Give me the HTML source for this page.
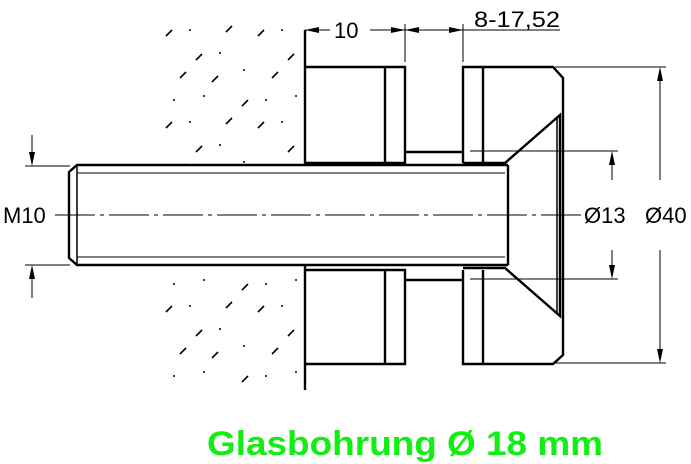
<!DOCTYPE html>
<html><head><meta charset="utf-8"><style>html,body{margin:0;padding:0;background:#fff}svg{display:block}</style></head>
<body>
<svg width="691" height="464" viewBox="0 0 691 464" xmlns="http://www.w3.org/2000/svg">
<defs>
<pattern id="h" x="160" y="20" width="92" height="92" patternUnits="userSpaceOnUse">
<line x1="6" y1="16" x2="12" y2="10" stroke="#000" stroke-width="1.6"/>
<line x1="52" y1="62" x2="58" y2="56" stroke="#000" stroke-width="1.6"/>
<line x1="36" y1="40" x2="42" y2="34" stroke="#000" stroke-width="1.6"/>
<line x1="82" y1="86" x2="88" y2="80" stroke="#000" stroke-width="1.6"/>
<line x1="66" y1="12" x2="72" y2="6" stroke="#000" stroke-width="1.6"/>
<line x1="20" y1="58" x2="26" y2="52" stroke="#000" stroke-width="1.6"/>
<circle cx="30" cy="10" r="1" fill="#000"/>
<circle cx="60" cy="33" r="1" fill="#000"/>
<circle cx="14" cy="80" r="1" fill="#000"/>
<circle cx="84" cy="50" r="1" fill="#000"/>
<circle cx="44" cy="76" r="1" fill="#000"/>
</pattern>
</defs>
<rect x="160" y="20" width="142" height="144" fill="url(#h)"/>
<rect x="160" y="268" width="142" height="124" fill="url(#h)"/>
<g stroke="#000" fill="none" stroke-width="2.4" stroke-linejoin="miter">
<line x1="305" y1="30" x2="305" y2="165"/>
<line x1="305" y1="265" x2="305" y2="390"/>
<polyline points="305,67 405,67 405,163 305,163"/>
<line x1="385" y1="67" x2="385" y2="163"/>
<polyline points="305,270 405,270 405,364 305,364"/>
<line x1="385" y1="270" x2="385" y2="364"/>
<line x1="405" y1="152" x2="463" y2="152"/>
<line x1="405" y1="280" x2="463" y2="280"/>
<polyline points="463,163 463,67 553,67 563,78 563,355 553,364 463,364 463,270"/>
<line x1="483" y1="67" x2="483" y2="163"/>
<line x1="483" y1="270" x2="483" y2="364"/>
<polyline points="463,163 505,163 560,115 560,316 505,268 463,268"/>
<line x1="557" y1="118" x2="557" y2="313" stroke-width="1.5"/>
<polyline points="508,165 77,165 69,172 69,258 77,265 508,265"/>
<line x1="508" y1="165" x2="508" y2="265"/>
<line x1="77" y1="165" x2="77" y2="265" stroke-width="1.5"/>
</g>
<g stroke="#000" fill="none" stroke-width="1">
<line x1="77" y1="173" x2="505" y2="173"/>
<line x1="77" y1="257" x2="505" y2="257"/>
<line x1="55" y1="215" x2="585" y2="215" stroke-dasharray="40,5,4,5"/>
<line x1="25" y1="166" x2="70" y2="166"/>
<line x1="25" y1="265" x2="70" y2="265"/>
<line x1="32" y1="135" x2="32" y2="160"/>
<line x1="32" y1="272" x2="32" y2="298"/>
<line x1="470" y1="151" x2="618" y2="151"/>
<line x1="470" y1="279" x2="618" y2="279"/>
<line x1="612" y1="158" x2="612" y2="180"/>
<line x1="612" y1="250" x2="612" y2="272"/>
<line x1="555" y1="67" x2="666" y2="67"/>
<line x1="555" y1="363" x2="666" y2="363"/>
<line x1="660" y1="74" x2="660" y2="180"/>
<line x1="660" y1="250" x2="660" y2="356"/>
<line x1="305" y1="30" x2="330" y2="30"/>
<line x1="370" y1="30" x2="560" y2="30"/>
<line x1="405" y1="24" x2="405" y2="62"/>
<line x1="463" y1="24" x2="463" y2="62"/>
</g>
<g fill="#000">
<polygon points="32,166 29,152 35,152"/>
<polygon points="32,265 29,279 35,279"/>
<polygon points="612,151 609,165 615,165"/>
<polygon points="612,279 609,265 615,265"/>
<polygon points="660,67 657,81 663,81"/>
<polygon points="660,363 657,349 663,349"/>
<polygon points="305,30 319,27 319,33"/>
<polygon points="405,30 391,27 391,33"/>
<polygon points="405,30 419,27 419,33"/>
<polygon points="463,30 449,27 449,33"/>
</g>
<g font-family="Liberation Sans, sans-serif" font-size="22" fill="#000">
<text x="334" y="38">10</text>
<text x="474" y="27" textLength="86" lengthAdjust="spacingAndGlyphs">8-17,52</text>
<text x="3" y="223">M10</text>
<text x="584" y="223">Ø13</text>
<text x="645" y="223">Ø40</text>
</g>
<text x="207" y="455" font-family="Liberation Sans, sans-serif" font-weight="bold" font-size="34" fill="#11ee11" textLength="396" lengthAdjust="spacingAndGlyphs">Glasbohrung Ø 18 mm</text>
</svg>
</body></html>
